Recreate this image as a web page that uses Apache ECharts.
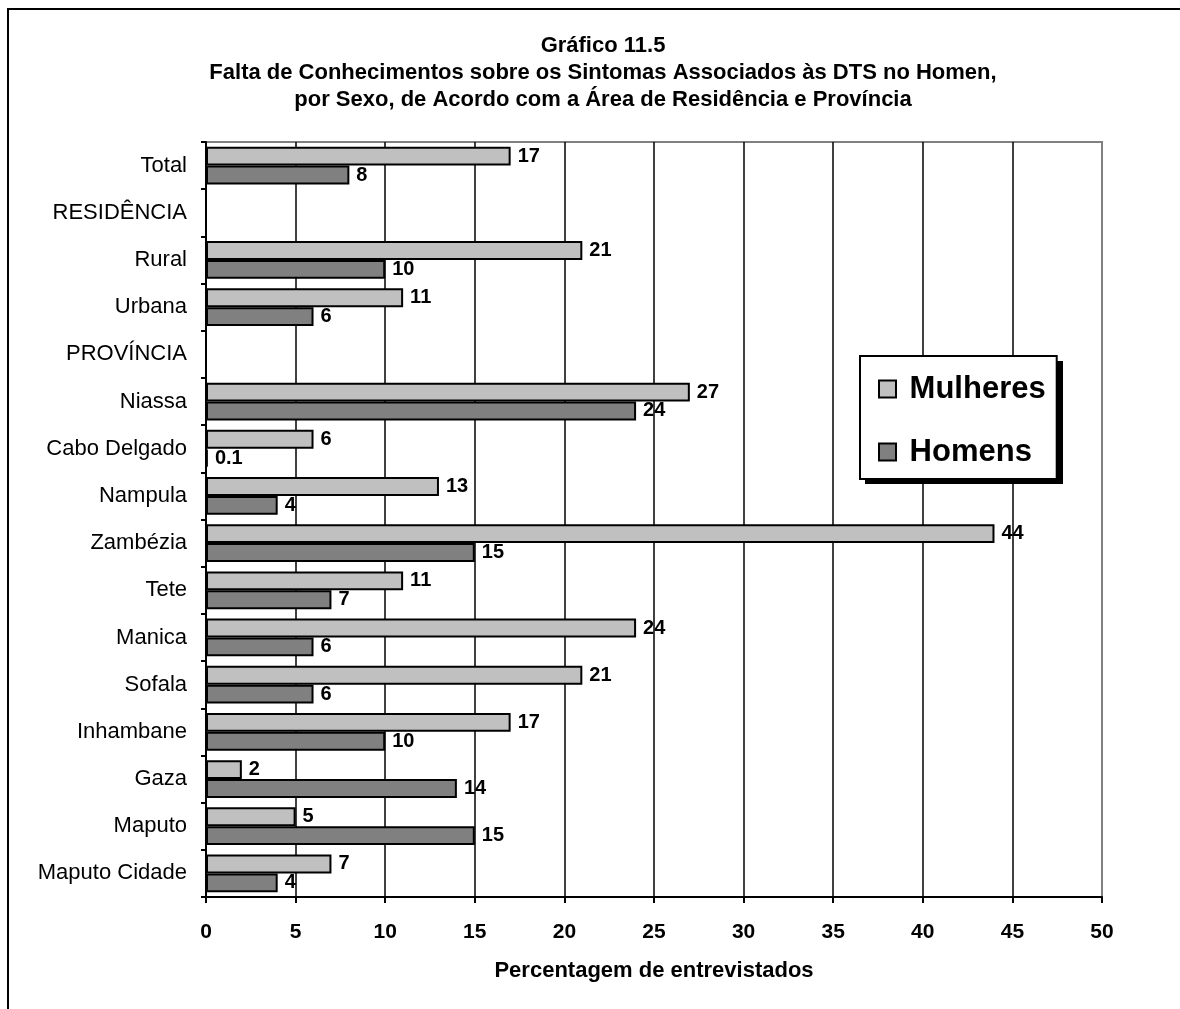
<!DOCTYPE html>
<html>
<head>
<meta charset="utf-8">
<script src="https://cdn.jsdelivr.net/npm/echarts@6/dist/echarts.min.js"></script>
<style>
  html, body { margin: 0; padding: 0; background: #fff; }
  #main { width: 1180px; height: 1009px; }
</style>
</head>
<body>
<div id="main"></div>
<script>
var categories = ['Total', 'RESIDÊNCIA', 'Rural', 'Urbana', 'PROVÍNCIA', 'Niassa', 'Cabo Delgado',
    'Nampula', 'Zambézia', 'Tete', 'Manica', 'Sofala', 'Inhambane', 'Gaza', 'Maputo', 'Maputo Cidade'];
var mulheres = [17, '-', 21, 11, '-', 27, 6, 13, 44, 11, 24, 21, 17, 2, 5, 7];
var homens = [8, '-', 10, 6, '-', 24, 0.1, 4, 15, 7, 6, 6, 10, 14, 15, 4];

var font = 'Arial, "Liberation Sans", sans-serif';

var chart = echarts.init(document.getElementById('main'));

var labelStyle = {
    show: true,
    position: 'right',
    distance: 7,
    color: '#000',
    fontFamily: font,
    fontWeight: 'bold',
    fontSize: 20
};

// linhas de grelha pretas, a última (borda direita) cinzenta
var gridColors = ['#000', '#000', '#000', '#000', '#000', '#000', '#000', '#000', '#000', '#000', '#808080'];

var option = {
    backgroundColor: '#fff',
    animation: false,
    title: {
        text: 'Gráfico 11.5\nFalta de Conhecimentos sobre os Sintomas Associados às DTS no Homen,\npor Sexo, de Acordo com a Área de Residência e Província',
        left: 598,
        top: 27,
        textAlign: 'center',
        textStyle: {
            fontFamily: font,
            fontWeight: 'bold',
            fontSize: 22,
            lineHeight: 27,
            color: '#000'
        }
    },
    graphic: [{
        type: 'polyline',
        shape: { points: [[8, 1009], [8, 9], [1180, 9]] },
        style: { stroke: '#000', lineWidth: 2, fill: null }
    }, {
        // sombra da legenda
        type: 'rect',
        z: 3,
        shape: { x: 865, y: 361, width: 198, height: 123 },
        style: { fill: '#000' }
    }],
    legend: {
        orient: 'vertical',
        left: 860,
        top: 356,
        padding: [15, 11, 9, 18],
        itemGap: 27,
        itemWidth: 17,
        itemHeight: 17,
        icon: 'rect',
        formatter: ' {name}',
        backgroundColor: '#fff',
        borderColor: '#000',
        borderWidth: 2,
        z: 5,
        textStyle: {
            fontFamily: font,
            fontWeight: 'bold',
            fontSize: 31,
            lineHeight: 36,
            color: '#000'
        },
        data: ['Mulheres', 'Homens']
    },
    grid: {
        left: 206,
        right: 78,
        top: 142,
        bottom: 112,
        show: true,
        borderColor: '#808080',
        borderWidth: 2
    },
    xAxis: {
        type: 'value',
        min: 0,
        max: 50,
        interval: 5,
        name: 'Percentagem de entrevistados',
        nameLocation: 'middle',
        nameGap: 63,
        nameTextStyle: {
            fontFamily: font,
            fontWeight: 'bold',
            fontSize: 22,
            color: '#000'
        },
        axisLine: { show: true, lineStyle: { color: '#000', width: 2 } },
        axisTick: { show: true, length: 6, lineStyle: { color: '#000', width: 2 } },
        axisLabel: {
            margin: 25,
            fontFamily: font,
            fontWeight: 'bold',
            fontSize: 21,
            color: '#000'
        },
        splitLine: { show: true, lineStyle: { color: gridColors, width: 1.5 } }
    },
    yAxis: {
        type: 'category',
        inverse: true,
        data: categories,
        axisLine: { show: true, lineStyle: { color: '#000', width: 2 } },
        axisTick: { show: true, length: 5, lineStyle: { color: '#000', width: 2 } },
        axisLabel: {
            margin: 19,
            fontFamily: font,
            fontSize: 22,
            color: '#000'
        },
        splitLine: { show: false }
    },
    series: [{
        name: 'Mulheres',
        type: 'bar',
        data: mulheres,
        barGap: '0%',
        barCategoryGap: '20%',
        itemStyle: { color: '#C0C0C0', borderColor: '#000', borderWidth: 2 },
        label: labelStyle
    }, {
        name: 'Homens',
        type: 'bar',
        data: homens,
        barGap: '0%',
        barCategoryGap: '20%',
        itemStyle: { color: '#808080', borderColor: '#000', borderWidth: 2 },
        label: labelStyle
    }]
};

chart.setOption(option);
</script>
</body>
</html>
